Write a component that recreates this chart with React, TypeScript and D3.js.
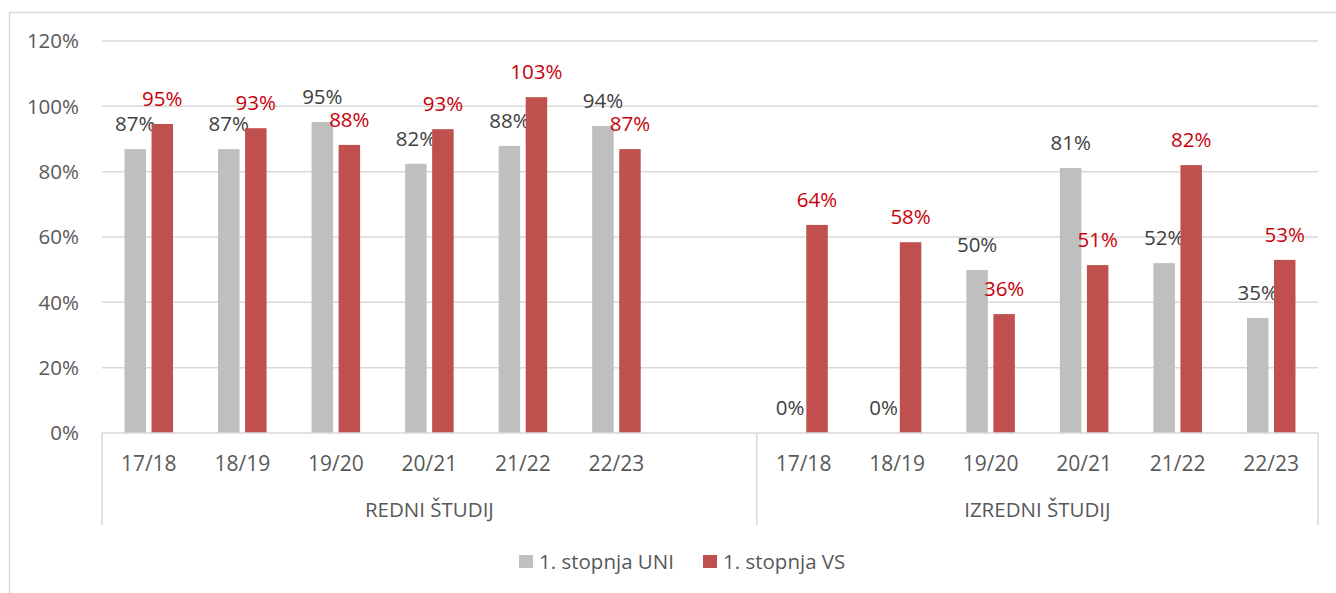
import React from "react";
import * as d3 from "d3";

const categories = ["17/18", "18/19", "19/20", "20/21", "21/22", "22/23"];
const groups = ["REDNI ŠTUDIJ", "IZREDNI ŠTUDIJ"];
const seriesNames = ["1. stopnja UNI", "1. stopnja VS"];
const redniUNI = [0.869, 0.869, 0.952, 0.824, 0.879, 0.94];
const redniVS = [0.946, 0.933, 0.882, 0.93, 1.028, 0.869];
const izredniUNI = [0, 0, 0.499, 0.811, 0.52, 0.352];
const izredniVS = [0.637, 0.584, 0.364, 0.514, 0.82, 0.53];
const yTicks = [0, 0.2, 0.4, 0.6, 0.8, 1.0, 1.2];

const colors = ["#BFBFBF", "#C0504D"];
const labelColors = ["#404040", "#C8000A"];
const FONT = "'Open Sans', sans-serif";

type Slot = { key: string; cat: string; group: number; values: number[] | null };

const slots: Slot[] = [];
categories.forEach((c, i) =>
  slots.push({ key: "r" + i, cat: c, group: 0, values: [redniUNI[i], redniVS[i]] })
);
slots.push({ key: "blank", cat: "", group: 0, values: null });
categories.forEach((c, i) =>
  slots.push({ key: "i" + i, cat: c, group: 1, values: [izredniUNI[i], izredniVS[i]] })
);

export default function App() {
  const W = 1336;
  const H = 593;
  const left = 102;
  const right = 1318;
  const top = 41;
  const bottom = 433;

  const x0 = d3
    .scaleBand<string>()
    .domain(slots.map((s) => s.key))
    .range([left, right])
    .paddingInner(0)
    .paddingOuter(0);
  const x1 = d3
    .scaleBand<string>()
    .domain(seriesNames)
    .range([0, x0.bandwidth()])
    .paddingInner(0.204)
    .paddingOuter(0.834);
  const y = d3.scaleLinear().domain([0, 1.2]).range([bottom, top]);
  const fmt = d3.format(".0%");

  const groupBounds = groups.map((g, gi) => {
    const ss = slots.filter((s) => s.group === gi);
    const a = x0(ss[0].key)!;
    const b = x0(ss[ss.length - 1].key)! + x0.bandwidth();
    return { g, a, b };
  });

  const lineColor = "#D9D9D9";

  return (
    <div style={{ position: "absolute", left: 0, top: 0 }}>
      <svg width={W} height={H} style={{ display: "block", fontFamily: FONT }}>
        <rect x={0} y={0} width={W} height={H} fill="#fff" />
        <rect x={9.5} y={12.5} width={1340} height={600} fill="none" stroke={lineColor} strokeWidth={1.5} />
        {yTicks.map((t) => (
          <g key={t}>
            {t > 0 && (
              <line x1={left} x2={right} y1={y(t)} y2={y(t)} stroke={lineColor} strokeWidth={1.5} />
            )}
            <text
              x={79}
              y={y(t)}
              dy="0.35em"
              textAnchor="end"
              fontSize={20.5}
              fill="#595959"
            >
              {fmt(t)}
            </text>
          </g>
        ))}
        {slots.map((s) =>
          s.values
            ? s.values.map((v, si) => {
                const bx = x0(s.key)! + x1(seriesNames[si])!;
                return (
                  <g key={s.key + si}>
                    <rect
                      x={bx}
                      y={y(v)}
                      width={x1.bandwidth()}
                      height={bottom - y(v)}
                      fill={colors[si]}
                    />
                    <text
                      x={bx + x1.bandwidth() / 2}
                      y={y(v) - 25}
                      dy="0.35em"
                      textAnchor="middle"
                      fontSize={20.5}
                      fill={labelColors[si]}
                    >
                      {fmt(v)}
                    </text>
                  </g>
                );
              })
            : null
        )}
        <line x1={left} x2={right} y1={bottom} y2={bottom} stroke={lineColor} strokeWidth={1.5} />
        {[left, groupBounds[0].b, right].map((xx, i) => (
          <line key={i} x1={xx} x2={xx} y1={bottom} y2={525} stroke={lineColor} strokeWidth={1.5} />
        ))}
        {slots.map((s) =>
          s.cat ? (
            <text
              key={"c" + s.key}
              x={x0(s.key)! + x0.bandwidth() / 2}
              y={464}
              dy="0.35em"
              textAnchor="middle"
              fontSize={21}
              fill="#595959"
            >
              {s.cat}
            </text>
          ) : null
        )}
        {groupBounds.map((gb) => (
          <text
            key={gb.g}
            x={(gb.a + gb.b) / 2}
            y={510}
            dy="0.35em"
            textAnchor="middle"
            fontSize={20.5}
            fill="#595959"
          >
            {gb.g}
          </text>
        ))}
        {seriesNames.map((n, i) => {
          const lx = [519, 703][i];
          return (
            <g key={n}>
              <rect x={lx} y={555} width={14} height={13} fill={colors[i]} />
              <text x={lx + 20} y={562} dy="0.35em" fontSize={20.5} fill="#595959">
                {n}
              </text>
            </g>
          );
        })}
      </svg>
    </div>
  );
}
